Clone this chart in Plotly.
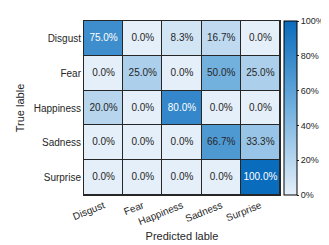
import plotly.graph_objects as go

classes = ["Disgust", "Fear", "Happiness", "Sadness", "Surprise"]
values = [
    [75.0, 0.0, 8.3, 16.7, 0.0],
    [0.0, 25.0, 0.0, 50.0, 25.0],
    [20.0, 0.0, 80.0, 0.0, 0.0],
    [0.0, 0.0, 0.0, 66.7, 33.3],
    [0.0, 0.0, 0.0, 0.0, 100.0],
]
cbar_ticks = [0, 20, 40, 60, 80, 100]
cbar_labels = ["0%", "20%", "40%", "60%", "80%", "100%"]

colorscale = [[0.0, "#e5eff9"], [0.5, "#72b0de"], [1.0, "#0a6cbc"]]

fig = go.Figure()
fig.add_trace(go.Heatmap(
    z=values, x=classes, y=classes,
    colorscale=colorscale, zmin=0, zmax=100,
    xgap=1, ygap=1,
    hoverinfo="skip",
    colorbar=dict(
        x=1.0226, xanchor="left", xpad=0, y=0.5, yanchor="middle",
        len=1.0, lenmode="fraction", thickness=13, thicknessmode="pixels",
        ypad=0,
        outlinewidth=1, outlinecolor="#000000",
        tickmode="array", tickvals=cbar_ticks, ticktext=cbar_labels,
        ticks="outside", ticklen=2, tickcolor="#262626",
        tickfont=dict(size=9, color="#262626", family="Liberation Sans, Arial"),
    ),
))

xs, ys, txt, cols = [], [], [], []
for i, row in enumerate(values):
    for j, v in enumerate(row):
        xs.append(classes[j]); ys.append(classes[i])
        txt.append(f"{v:.1f}%")
        cols.append("#ffffff" if v >= 70 else "#262626")
fig.add_trace(go.Scatter(
    x=xs, y=ys, text=txt, mode="text",
    textfont=dict(color=cols, size=10, family="Liberation Sans, Arial"),
    hoverinfo="skip", showlegend=False,
))

fig.update_layout(
    width=329, height=245,
    margin=dict(l=73, r=35, t=13, b=52),
    paper_bgcolor="white", plot_bgcolor="#262626",
    font=dict(family="Liberation Sans, Arial", size=10, color="#262626"),
    showlegend=False,
)
fig.update_xaxes(
    showline=True, linecolor="#262626", linewidth=1, mirror=True,
    tickangle=-22, ticks="", showgrid=False, zeroline=False,
    title=dict(text="Predicted lable", font=dict(size=11), standoff=6),
    tickfont=dict(size=10),
)
fig.update_yaxes(
    autorange="reversed",
    showline=True, linecolor="#262626", linewidth=1, mirror=True,
    ticks="", showgrid=False, zeroline=False,
    title=dict(text="True lable", font=dict(size=11), standoff=6),
    tickfont=dict(size=10),
)

fig.write_html("out.html")
